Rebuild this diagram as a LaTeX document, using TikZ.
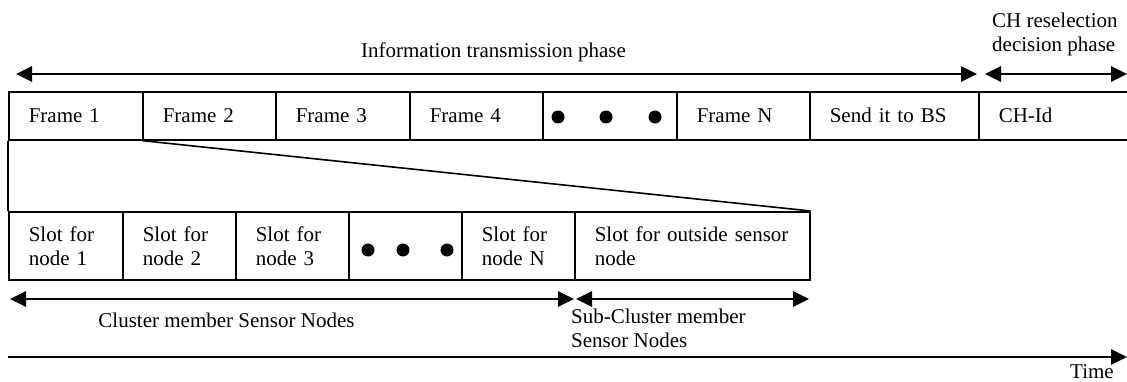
\documentclass[tikz,border=0pt]{standalone}
\usepackage{fontspec}
\setmainfont{Liberation Serif}
\usetikzlibrary{arrows.meta}
\begin{document}
\begin{tikzpicture}[x=1pt,y=-1pt,
  every node/.style={font=\fontsize{21pt}{24pt}\selectfont, inner sep=0pt},
  cell/.style={draw, line width=1.6pt, anchor=north west, inner xsep=20pt, inner ysep=0pt, align=left},
  topcell/.style={cell, minimum height=48pt},
  lowcell/.style={cell, minimum height=68pt},
  blob/.style={circle, fill, draw=none, minimum size=13pt, inner sep=0pt},
  thin/.style={line width=1.6pt},
  span/.style={line width=2.8pt, {Triangle[length=16pt,width=15pt]}-{Triangle[length=16pt,width=15pt]}},
  onesided/.style={line width=2.8pt, -{Triangle[length=16pt,width=15pt]}}]
\useasboundingbox (0,0) rectangle (1127,382);
\clip (0,0) rectangle (1127,382);

% top row of frames
\node[topcell, minimum width=134pt, text width=94pt] (f1) at (8,91) {Frame 1};
\node[topcell, minimum width=133pt, text width=93pt] (f2) at (142,91) {Frame 2};
\node[topcell, minimum width=134pt, text width=94pt] (f3) at (275,91) {Frame 3};
\node[topcell, minimum width=133pt, text width=93pt] (f4) at (409,91) {Frame 4};
\node[topcell, minimum width=134pt, text width=94pt] (fd) at (542,91) {};
\node[topcell, minimum width=133pt, text width=93pt] (fn) at (676,91) {Frame N};
\node[topcell, minimum width=169pt, text width=129pt] (bs) at (809,91) {Send it to BS};
\node[topcell, minimum width=170pt, text width=130pt] (ch) at (978,91) {CH-Id};
\node[blob] (fd1) at (558,117) {};
\node[blob] (fd2) at (606,117) {};
\node[blob] (fd3) at (655,117) {};

% lower row of slots
\node[lowcell, minimum width=114pt, text width=74pt] (s1) at (8,211) {Slot for\\node 1};
\node[lowcell, minimum width=113pt, text width=73pt] (s2) at (122,211) {Slot for\\node 2};
\node[lowcell, minimum width=113pt, text width=73pt] (s3) at (235,211) {Slot for\\node 3};
\node[lowcell, minimum width=113pt, text width=73pt] (sd) at (348,211) {};
\node[lowcell, minimum width=113pt, text width=73pt] (sn) at (461,211) {Slot for\\node N};
\node[lowcell, minimum width=235pt, text width=195pt] (so) at (574,211) {Slot for outside sensor\\node};
\node[blob] (sd1) at (368,250) {};
\node[blob] (sd2) at (403,250) {};
\node[blob] (sd3) at (447,250) {};

% zoom lines
\draw[thin] (f1.south west) -- (s1.north west);
\draw[thin] (f2.south west) -- (so.north east);

% phase arrows
\coordinate (ia) at (16,74);
\coordinate (ib) at (977,74);
\coordinate (ca) at (985,74);
\coordinate (cb) at (1127,74);
\draw[span] (ia) -- (ib);
\draw[span] (ca) -- (cb);
\node[anchor=base] (itp) at (493.5,58) {Information transmission phase};
\node[anchor=north west, align=left] (chr) at (992,12.7) {CH reselection\\decision phase};

% member arrows
\coordinate (ma) at (10,299);
\coordinate (mb) at (574,299);
\coordinate (sa) at (576,299);
\coordinate (sb) at (809,299);
\draw[span] (ma) -- (mb);
\draw[span] (sa) -- (sb);
\node[anchor=base] (cms) at (226.5,327) {Cluster member Sensor Nodes};
\node[anchor=north west, align=left] (scm) at (571,309) {Sub-Cluster member\\Sensor Nodes};

% time axis
\coordinate (ta) at (8,357);
\coordinate (tb) at (1127,357);
\draw[onesided] (ta) -- (tb);
\node[anchor=base west] (time) at (1070,378) {Time};
\end{tikzpicture}
\end{document}
